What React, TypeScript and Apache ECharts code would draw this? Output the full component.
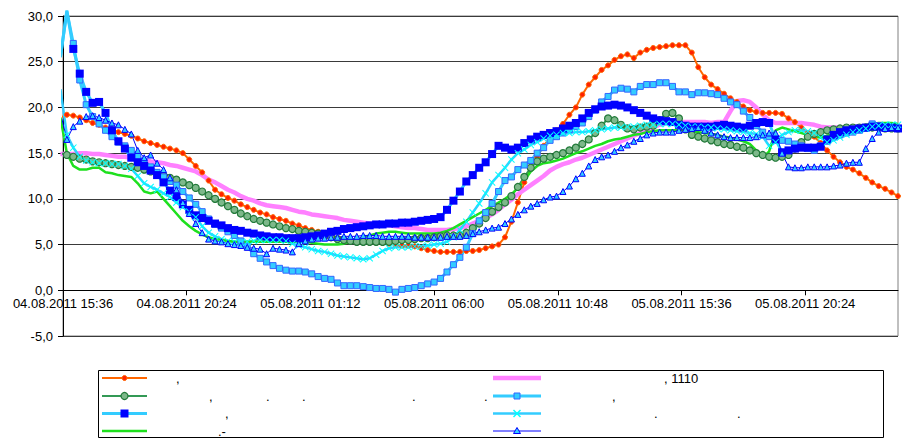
import React, { useEffect, useRef } from 'react';
import * as echarts from 'echarts';

// Time grid: readings every 15 minutes from 04.08.2011 15:30 to 06.08.2011 00:00
const AXIS_START_UTC = Date.UTC(2011, 7, 4, 15, 36); // x axis min: 04.08.2011 15:36
const FIRST_READING_MIN = -6; // 15:30 relative to axis start, minutes
const STEP_MIN = 15;

const orange = [
  18.9, 19.2, 19.1, 18.9, 18.6, 18.3, 18.1, 17.8, 17.6, 17.3,
  17.1, 16.9, 16.6, 16.3, 16.1, 15.9, 15.7, 15.5, 15.3, 15.0,
  14.3, 13.6, 12.9, 12.0, 11.0, 10.5, 10.1, 9.8, 9.4, 9.1,
  8.8, 8.5, 8.3, 8.0, 7.8, 7.6, 7.3, 7.1, 6.8, 6.6,
  6.4, 6.1, 5.9, 5.6, 5.5, 5.4, 5.3, 5.3, 5.2, 5.2,
  5.2, 5.1, 5.0, 4.9, 4.9, 4.8, 4.6, 4.4, 4.3, 4.2,
  4.2, 4.2, 4.2, 4.3, 4.3, 4.4, 4.6, 4.8, 5.0, 5.8,
  7.5, 9.6, 11.8, 13.4, 14.6, 15.8, 16.7, 17.5, 18.2, 19.2,
  20.0, 21.4, 22.5, 23.3, 24.1, 24.6, 25.2, 25.6, 25.8, 25.4,
  26.0, 26.3, 26.5, 26.6, 26.7, 26.8, 26.8, 26.8, 26.0, 24.4,
  23.3, 22.5, 22.0, 21.5, 21.0, 20.6, 20.1, 19.7, 19.5, 19.4,
  19.4, 19.4, 19.3, 18.8, 18.4, 17.8, 17.2, 16.8, 16.1, 15.3,
  14.6, 14.0, 13.5, 13.2, 12.8, 12.3, 11.8, 11.4, 11.1, 10.7,
  10.3,
];

const pink = [
  14.9, 14.9, 14.9, 15.0, 15.0, 14.9, 14.9, 14.8, 14.7, 14.6,
  14.6, 14.5, 14.5, 14.3, 14.1, 14.0, 13.9, 13.7, 13.6, 13.4,
  13.2, 13.0, 12.6, 12.1, 11.8, 11.4, 11.0, 10.7, 10.3, 10.0,
  9.8, 9.5, 9.3, 9.2, 9.1, 9.0, 8.8, 8.6, 8.5, 8.3,
  8.2, 8.1, 8.0, 7.9, 7.7, 7.6, 7.5, 7.4, 7.3, 7.3,
  7.2, 7.1, 7.0, 6.9, 6.8, 6.8, 6.7, 6.6, 6.6, 6.6,
  6.6, 6.7, 6.8, 7.0, 7.3, 7.6, 7.9, 8.3, 8.8, 9.4,
  9.9, 10.5, 11.0, 11.5, 12.0, 12.5, 13.1, 13.5, 13.8, 14.0,
  14.3, 14.5, 14.8, 15.1, 15.4, 15.7, 16.0, 16.3, 16.6, 16.9,
  17.2, 17.5, 17.8, 18.1, 18.3, 18.4, 18.4, 18.4, 18.4, 18.4,
  18.4, 18.3, 18.4, 18.4, 19.6, 20.7, 20.8, 20.6, 20.0, 19.2,
  18.6, 18.3, 18.3, 18.3, 18.3, 18.3, 18.2, 18.1, 17.9, 17.8,
  17.8, 17.8, 17.8, 17.9, 17.9, 17.9, 17.9, 17.9, 17.9, 17.9,
  17.9,
];

const darkGreen = [
  15.0, 14.8, 14.6, 14.4, 14.3, 14.1, 14.0, 13.9, 13.8, 13.7,
  13.6, 13.5, 13.4, 13.2, 13.0, 12.8, 12.5, 12.3, 12.1, 11.8,
  11.5, 11.2, 10.8, 10.4, 10.0, 9.6, 9.2, 8.8, 8.4, 8.1,
  7.8, 7.6, 7.4, 7.2, 7.0, 6.8, 6.7, 6.5, 6.4, 6.3,
  6.2, 6.0, 5.8, 5.6, 5.5, 5.4, 5.3, 5.3, 5.3, 5.3,
  5.3, 5.3, 5.4, 5.5, 5.5, 5.6, 5.7, 5.7, 5.8, 5.9,
  6.0, 6.0, 6.0, 6.3, 6.8, 7.3, 7.9, 8.6, 9.1, 9.6,
  10.3, 11.3, 12.4, 13.4, 14.1, 14.4, 14.6, 14.8, 15.0, 15.3,
  15.6, 16.0, 16.5, 17.2, 18.0, 18.8, 18.6, 18.1, 17.7, 17.6,
  17.8, 17.9, 18.0, 18.6, 19.3, 19.4, 18.8, 17.6, 17.0, 16.8,
  16.6, 16.4, 16.2, 16.0, 15.9, 15.7, 15.6, 15.3, 15.0, 14.8,
  14.6, 14.5, 14.6, 14.8, 15.5, 16.2, 16.8, 17.1, 17.3, 17.5,
  17.6, 17.7, 17.8, 17.8, 17.8, 17.8, 17.8, 17.8, 17.7, 17.7,
  17.7,
];

const lightSquares = [
  25.5, 30.5, 27.0, 23.0, 20.3, 19.0, 18.2, 17.5, 16.8, 16.2,
  15.8, 15.3, 14.7, 14.1, 13.5, 12.9, 12.4, 11.9, 11.5, 10.8,
  10.1, 9.4, 8.6, 7.8, 7.2, 6.8, 6.4, 6.0, 5.4, 4.8,
  4.0, 3.5, 3.1, 2.7, 2.4, 2.2, 2.1, 2.1, 2.0, 1.8,
  1.5, 1.3, 1.2, 0.8, 0.5, 0.5, 0.5, 0.4, 0.3, 0.2,
  0.2, 0.1, -0.2, 0.1, 0.2, 0.3, 0.5, 0.7, 0.9, 1.3,
  2.0, 2.8, 3.6, 4.7, 6.2, 7.6, 8.5, 9.5, 10.8, 12.0,
  12.4, 13.2, 13.7, 14.2, 15.0, 15.6, 16.4, 16.8, 17.2, 17.6,
  17.9, 18.3, 19.0, 19.7, 20.6, 21.2, 21.9, 22.1, 22.0, 21.7,
  22.3, 22.5, 22.5, 22.7, 22.7, 22.3, 21.7, 21.7, 21.4, 21.6,
  21.6, 21.5, 21.4, 21.0, 20.6, 20.3, 19.6, 18.9, 18.0, 17.3,
  16.8, 16.5, 16.4, 16.3, 16.0, 15.8, 15.5, 15.3, 15.8, 16.3,
  16.8, 17.0, 17.2, 17.3, 17.5, 17.7, 18.2, 18.0, 17.9, 17.8,
  17.7,
];

const blueSquares = [
  25.5, 30.6, 26.4, 23.7, 21.7, 20.5, 20.6, 19.4, 17.5, 16.3,
  15.5, 14.5, 14.0, 13.6, 13.1, 12.6, 11.8, 10.9, 10.2, 9.4,
  8.8, 8.2, 7.9, 7.6, 7.3, 7.1, 6.8, 6.6, 6.5, 6.3,
  6.2, 6.0, 5.9, 5.8, 5.8, 5.7, 5.7, 5.7, 5.8, 5.9,
  6.0, 6.2, 6.4, 6.5, 6.7, 6.8, 6.9, 7.0, 7.1, 7.2,
  7.2, 7.3, 7.3, 7.4, 7.4, 7.5, 7.6, 7.7, 7.8, 8.0,
  8.8, 9.8, 10.8, 11.9, 12.6, 13.4, 14.0, 14.9, 15.8, 15.6,
  15.4, 15.6, 16.1, 16.5, 16.8, 17.0, 17.2, 17.4, 17.7, 18.0,
  18.3, 18.8, 19.4, 19.8, 20.1, 20.2, 20.3, 20.2, 20.0, 19.7,
  19.4, 19.1, 18.8, 18.6, 18.5, 18.4, 18.1, 18.0, 17.9, 17.9,
  17.9, 17.9, 18.0, 18.1, 18.0, 17.9, 17.8, 18.0, 18.3, 18.4,
  18.3, 16.5, 15.1, 15.3, 15.5, 15.6, 15.6, 15.6, 15.7, 16.5,
  17.0, 17.3, 17.5, 17.6, 17.7, 17.8, 17.9, 17.9, 17.8, 17.8,
  17.7,
];

const cyanCross = [
  22.0, 17.0, 15.6, 14.6, 14.2, 14.0, 13.9, 13.9, 13.8, 13.8,
  13.6, 13.3, 12.5, 11.7, 11.3, 11.0, 10.6, 10.2, 9.6, 9.1,
  8.6, 8.0, 7.0, 6.3, 5.9, 5.6, 5.4, 5.3, 5.2, 5.3,
  5.4, 5.5, 5.5, 5.5, 5.5, 5.4, 5.1, 4.9, 4.7, 4.5,
  4.3, 4.2, 4.0, 3.8, 3.7, 3.6, 3.5, 3.4, 3.5, 3.9,
  4.3, 4.6, 4.7, 4.7, 4.7, 4.8, 4.8, 4.9, 5.0, 5.1,
  5.3, 5.8, 6.6, 7.5, 8.5, 9.5, 10.6, 11.8, 12.6, 13.4,
  14.3, 15.0, 15.4, 15.9, 16.2, 16.6, 16.9, 17.0, 17.2, 17.2,
  17.3, 17.3, 17.4, 17.5, 17.6, 17.7, 17.8, 17.8, 17.9, 17.9,
  18.0, 18.1, 18.1, 18.2, 18.2, 18.2, 18.1, 18.0, 17.9, 17.9,
  17.8, 17.8, 17.7, 17.6, 17.5, 17.4, 17.3, 17.2, 17.1, 16.8,
  15.8, 16.2, 17.0, 17.3, 17.5, 17.5, 17.4, 17.2, 16.7, 16.2,
  16.4, 16.7, 17.0, 17.3, 17.5, 17.7, 17.9, 18.0, 18.1, 18.1,
  18.1,
];

const green = [
  18.9, 15.0, 13.6, 13.2, 13.2, 13.4, 13.4, 12.9, 12.8, 12.6,
  12.5, 12.4, 11.7, 10.8, 10.6, 10.8, 10.0, 9.2, 8.4, 7.6,
  7.0, 6.5, 6.1, 5.8, 5.6, 5.5, 5.4, 5.3, 5.3, 5.3,
  5.3, 5.3, 5.3, 5.3, 5.3, 5.3, 5.3, 5.3, 5.3, 5.2,
  5.1, 5.0, 5.0, 5.0, 5.1, 5.3, 5.5, 5.8, 6.0, 6.2,
  6.3, 6.4, 6.4, 6.3, 6.2, 6.2, 6.2, 6.2, 6.2, 6.3,
  6.5, 6.8, 7.2, 7.6, 8.0, 8.4, 8.8, 9.2, 9.6, 10.0,
  10.5, 11.2, 12.0, 13.0, 13.6, 13.9, 14.0, 14.2, 14.4, 14.7,
  15.0, 15.2, 15.5, 15.8, 16.0, 16.3, 16.5, 16.6, 16.8, 17.0,
  17.1, 17.3, 17.4, 17.5, 17.5, 17.5, 17.5, 17.5, 17.4, 17.3,
  17.2, 17.1, 17.0, 16.8, 16.7, 16.5, 16.3, 16.0, 15.3, 14.5,
  15.2, 17.5, 17.8, 17.6, 17.4, 17.2, 17.0, 16.8, 16.7, 16.9,
  17.1, 17.4, 17.7, 17.9, 18.0, 18.1, 18.2, 18.3, 18.3, 18.3,
  18.2,
];

const blueTriangles = [
  19.4, 16.5, 17.9, 18.5, 19.0, 19.1, 18.9, 18.6, 18.3, 18.1,
  17.6, 17.1, 15.3, 14.5, 14.8, 13.9, 13.2, 12.3, 11.0, 9.6,
  8.4, 7.3, 6.3, 5.6, 5.4, 5.3, 5.1, 5.0, 4.9, 4.7,
  4.6, 4.5, 4.0, 4.6, 4.5, 4.4, 4.2, 5.1, 5.4, 5.6,
  5.7, 5.7, 5.8, 5.8, 5.9, 5.9, 5.9, 6.0, 6.0, 6.0,
  5.9, 5.9, 5.9, 5.9, 5.9, 5.8, 5.8, 5.8, 5.8, 5.8,
  5.9, 5.9, 5.9, 6.0, 6.2, 6.4, 6.6, 6.8, 6.9, 7.3,
  7.8, 8.3, 8.8, 9.2, 9.5, 9.9, 10.2, 10.3, 10.8, 11.4,
  12.2, 12.8, 13.6, 14.3, 14.6, 14.8, 15.2, 15.6, 15.9, 16.3,
  16.6, 17.0, 17.2, 17.3, 17.3, 17.3, 17.5, 17.6, 17.7, 17.8,
  17.5, 17.2, 17.0, 16.8, 16.7, 16.7, 16.7, 16.7, 16.8, 17.0,
  17.2, 17.2, 15.0, 13.5, 13.4, 13.4, 13.5, 13.5, 13.5, 13.5,
  13.6, 13.7, 13.9, 14.0, 14.0, 15.5, 16.6, 17.3, 17.7, 17.8,
  17.8,
];

// legend fragments visible in the reference (the rest of each label is blank)
const legendLeftTexts = [
  [{ x: 176, t: ',' }],
  [{ x: 209, t: ',' }, { x: 266, t: '.' }, { x: 302, t: '.' }, { x: 412, t: '.' }, { x: 484, t: '.' }],
  [{ x: 225, t: ',' }],
  [{ x: 218, t: '.-' }],
];
const legendRightTexts = [
  [{ x: 664, t: ', 1110' }],
  [{ x: 612, t: ',' }],
  [{ x: 654, t: '.' }, { x: 737, t: '.' }],
  [],
];

const FONT = '"Liberation Sans", Arial, Helvetica, sans-serif';
const CROSS = 'path://M0,1L1,0L5,4L9,0L10,1L6,5L10,9L9,10L5,6L1,10L0,9L4,5Z';
const Y_MIN = -5;
const Y_MAX = 30;
const GRID_TOP = 16;
const GRID_BOTTOM = 105;
const CHART_H = 441;

const pad = (n: number) => String(n).padStart(2, '0');
const fmtTime = (h: number) => {
  const d = new Date(AXIS_START_UTC + Math.round(h * 60) * 60000);
  return `${pad(d.getUTCDate())}.${pad(d.getUTCMonth() + 1)}.${d.getUTCFullYear()} ${pad(d.getUTCHours())}:${pad(d.getUTCMinutes())}`;
};

export default function App() {
  const ref = useRef<HTMLDivElement>(null);
  useEffect(() => {
    document.body.style.margin = '0';
    if (!ref.current) return;
    const chart = echarts.init(ref.current, undefined, { renderer: 'svg' });
    const hours = orange.map((_, i) => (FIRST_READING_MIN + i * STEP_MIN) / 60);
    const toData = (vals: number[], markers: boolean) =>
      vals.map((v, i) => {
        const t = hours[i];
        if (markers && (t < 0 || v > 30)) return { value: [t, v], symbol: 'none' };
        return [t, v];
      });

    const base = {
      type: 'line',
      clip: false,
      showAllSymbol: true,
      emphasis: { disabled: true },
      silent: true,
    };

    const series: any[] = [
      { ...base, name: 'orange', data: toData(orange, true), symbol: 'circle', symbolSize: 5,
        lineStyle: { color: '#FF6600', width: 2 }, itemStyle: { color: '#FF2200', borderColor: '#FF6600', borderWidth: 1 } },
      { ...base, name: 'pink', data: toData(pink, false), symbol: 'none',
        lineStyle: { color: '#FF80FF', width: 4.5 }, itemStyle: { color: '#FF80FF' } },
      { ...base, name: 'darkGreen', data: toData(darkGreen, true), symbol: 'circle', symbolSize: 7,
        lineStyle: { color: '#339955', width: 2 }, itemStyle: { color: '#7DB88A', borderColor: '#237A3A', borderWidth: 1.2 } },
      { ...base, name: 'lightSquares', data: toData(lightSquares, true), symbol: 'rect', symbolSize: 6,
        lineStyle: { color: '#33CCFF', width: 3 }, itemStyle: { color: '#33CCFF', borderColor: '#3366FF', borderWidth: 1 } },
      { ...base, name: 'blueSquares', data: toData(blueSquares, true), symbol: 'rect', symbolSize: 8,
        lineStyle: { color: '#33CCFF', width: 3 }, itemStyle: { color: '#0000FF', borderColor: '#0000FF', borderWidth: 0 } },
      { ...base, name: 'cyanCross', data: toData(cyanCross, true), symbol: CROSS, symbolSize: 7,
        lineStyle: { color: '#33CCFF', width: 2.5 }, itemStyle: { color: '#00FFFF', borderWidth: 0 } },
      { ...base, name: 'green', data: toData(green, false), symbol: 'none',
        lineStyle: { color: '#1EE01E', width: 2.5 }, itemStyle: { color: '#1EE01E' } },
      { ...base, name: 'blueTriangles', data: toData(blueTriangles, true), symbol: 'triangle', symbolSize: 6,
        lineStyle: { color: '#0000FF', width: 1 }, itemStyle: { color: '#33CCFF', borderColor: '#0000FF', borderWidth: 1 } },
    ];

    // legend drawing
    const rows = [378, 396, 413.5, 431];
    const L = { x0: 102, x1: 147 };
    const R = { x0: 493, x1: 541 };
    const g: any[] = [];
    g.push({ type: 'rect', shape: { x: 98.5, y: 370.5, width: 785, height: 67 }, style: { fill: '#fff', stroke: '#000', lineWidth: 1 }, z: 1 });
    const seg = (c: any, y: number, color: string, w: number) =>
      g.push({ type: 'line', shape: { x1: c.x0, y1: y, x2: c.x1, y2: y }, style: { stroke: color, lineWidth: w }, z: 2 });
    const mid = (c: any) => (c.x0 + c.x1) / 2;
    // left column
    seg(L, rows[0], '#FF6600', 2);
    g.push({ type: 'circle', shape: { cx: mid(L), cy: rows[0], r: 2.5 }, style: { fill: '#FF2200', stroke: '#FF6600', lineWidth: 1 }, z: 3 });
    seg(L, rows[1], '#339955', 2);
    g.push({ type: 'circle', shape: { cx: mid(L), cy: rows[1], r: 3.5 }, style: { fill: '#7DB88A', stroke: '#237A3A', lineWidth: 1.2 }, z: 3 });
    seg(L, rows[2], '#33CCFF', 3);
    g.push({ type: 'rect', shape: { x: mid(L) - 4, y: rows[2] - 4, width: 8, height: 8 }, style: { fill: '#0000FF' }, z: 3 });
    seg(L, rows[3], '#1EE01E', 2.5);
    // right column
    seg(R, rows[0], '#FF80FF', 4.5);
    seg(R, rows[1], '#33CCFF', 3);
    g.push({ type: 'rect', shape: { x: mid(R) - 3, y: rows[1] - 3, width: 6, height: 6 }, style: { fill: '#33CCFF', stroke: '#3366FF', lineWidth: 1 }, z: 3 });
    seg(R, rows[2], '#33CCFF', 2.5);
    g.push({ type: 'line', shape: { x1: mid(R) - 3.5, y1: rows[2] - 3.5, x2: mid(R) + 3.5, y2: rows[2] + 3.5 }, style: { stroke: '#00FFFF', lineWidth: 1.5 }, z: 3 });
    g.push({ type: 'line', shape: { x1: mid(R) - 3.5, y1: rows[2] + 3.5, x2: mid(R) + 3.5, y2: rows[2] - 3.5 }, style: { stroke: '#00FFFF', lineWidth: 1.5 }, z: 3 });
    seg(R, rows[3], '#0000FF', 1);
    g.push({ type: 'polygon', shape: { points: [[mid(R), rows[3] - 3.5], [mid(R) + 3.5, rows[3] + 2.5], [mid(R) - 3.5, rows[3] + 2.5]] }, style: { fill: '#33CCFF', stroke: '#0000FF', lineWidth: 1 }, z: 3 });
    const addTexts = (list: any[][]) =>
      list.forEach((row, r) =>
        row.forEach((it) =>
          g.push({ type: 'text', x: it.x, y: rows[r], style: { text: it.t, fill: '#000', font: `13px ${FONT}`, align: 'left', verticalAlign: 'middle', textAlign: 'left', textVerticalAlign: 'middle' }, z: 3 })
        )
      );
    addTexts(legendLeftTexts);
    addTexts(legendRightTexts);

    // x axis crosses the y axis at value 0: shift it up from the grid bottom
    const plotH = CHART_H - GRID_TOP - GRID_BOTTOM;
    const zeroOffset = -((0 - Y_MIN) / (Y_MAX - Y_MIN)) * plotH;

    chart.setOption({
      animation: false,
      textStyle: { fontFamily: FONT },
      grid: { left: 63, right: 7, top: GRID_TOP, bottom: GRID_BOTTOM, show: true, borderColor: '#808080', borderWidth: 1, containLabel: false },
      xAxis: {
        type: 'value', min: 0, max: 32.4, interval: 4.8,
        position: 'bottom',
        offset: zeroOffset,
        axisLine: { show: true, onZero: false, lineStyle: { color: '#000', width: 1 } },
        axisTick: { show: true, length: 5, lineStyle: { color: '#000' } },
        axisLabel: { formatter: (v: number) => fmtTime(v), showMaxLabel: false, margin: 7, color: '#000', fontSize: 13, fontFamily: FONT },
        splitLine: { show: false },
      },
      yAxis: {
        type: 'value', min: Y_MIN, max: Y_MAX, interval: 5,
        axisLine: { show: true, onZero: false, lineStyle: { color: '#000', width: 1 } },
        axisTick: { show: true, length: 5, lineStyle: { color: '#000' } },
        axisLabel: { formatter: (v: number) => v.toFixed(1).replace('.', ','), margin: 10, color: '#000', fontSize: 13, fontFamily: FONT },
        splitLine: { show: true, lineStyle: { color: '#3a3a3a', width: 1 } },
      },
      series,
      graphic: g,
    });
    return () => chart.dispose();
  }, []);
  return <div ref={ref} style={{ width: 905, height: 441 }} />;
}
